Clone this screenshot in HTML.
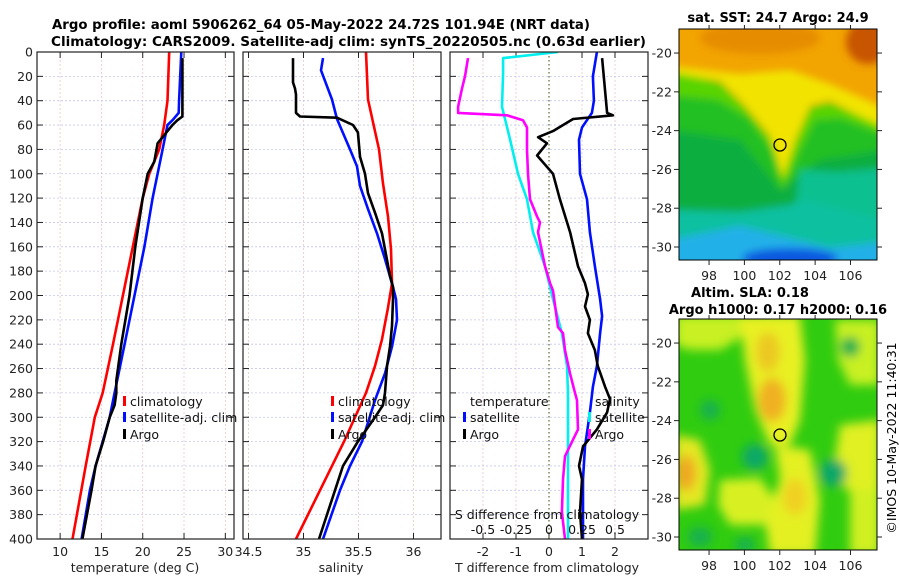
<!DOCTYPE html>
<html><head><meta charset="utf-8">
<style>
html,body{margin:0;padding:0;background:#fff;}
svg{display:block;font-family:"DejaVu Sans","Liberation Sans",sans-serif;}
</style></head>
<body>
<svg id="chart" width="900" height="580" viewBox="0 0 900 580" xmlns="http://www.w3.org/2000/svg">
<defs>
  <filter id="blur6" x="-20%" y="-20%" width="140%" height="140%"><feGaussianBlur stdDeviation="4"/></filter>
  <filter id="blur8" x="-30%" y="-30%" width="160%" height="160%"><feGaussianBlur stdDeviation="5"/></filter>
  <clipPath id="clipMap1"><rect x="679" y="29" width="198" height="231"/></clipPath>
  <clipPath id="clipMap2"><rect x="679" y="319" width="198" height="231"/></clipPath>
  <clipPath id="clipP1"><rect x="37" y="52" width="197" height="487"/></clipPath>
  <clipPath id="clipP2"><rect x="243" y="52" width="198" height="487"/></clipPath>
  <clipPath id="clipP3"><rect x="450" y="52" width="198" height="487"/></clipPath>
  <clipPath id="clipLeg2"><rect x="240" y="380" width="210" height="80"/></clipPath>
</defs>

<text x="52" y="29" font-size="13" font-weight="bold" textLength="538" lengthAdjust="spacingAndGlyphs">Argo profile: aoml 5906262_64 05-May-2022 24.72S 101.94E (NRT data)</text>
<text x="51" y="46" font-size="13" font-weight="bold" textLength="595" lengthAdjust="spacingAndGlyphs">Climatology: CARS2009. Satellite-adj clim: synTS_20220505.nc (0.63d earlier)</text>

<g id="p1"></g>
<g id="p2"></g>
<g id="p3"></g>

<!-- SST map -->
<g>
  <text x="778" y="22" font-size="13" font-weight="bold" text-anchor="middle">sat. SST: 24.7 Argo: 24.9</text>
  <g clip-path="url(#clipMap1)">
    <rect x="679" y="29" width="198" height="231" fill="#f2a400"/>
    <g filter="url(#blur6)">
      <ellipse cx="760" cy="38" rx="60" ry="16" fill="#e68c00"/>
      <ellipse cx="868" cy="42" rx="22" ry="22" fill="#c85400"/>
      <polygon points="670,66 740,74 790,70 830,84 885,108 885,130 830,100 810,105 795,140 783,178 770,135 745,105 720,80 670,74" fill="#f2e400"/>
      <polygon points="670,72 720,82 745,107 770,137 783,178 795,142 810,107 830,102 885,128 885,270 670,270" fill="#58d400"/>
      <polygon points="670,95 718,100 748,118 772,150 783,190 800,150 815,120 840,118 885,135 885,270 670,270" fill="#20c020"/>
      <polygon points="670,130 740,140 780,190 800,175 820,160 885,150 885,270 670,270" fill="#10ae40"/>
      <polygon points="800,170 840,172 885,168 885,270 790,270 795,210" fill="#10c090"/>
      <polygon points="670,210 740,212 790,205 805,200 885,220 885,270 670,270" fill="#10c0a0"/>
      <polygon points="670,240 740,226 790,238 830,248 885,242 885,270 670,270" fill="#20b0e8"/>
      <ellipse cx="790" cy="258" rx="48" ry="10" fill="#1058e0"/>
    </g>
  </g>
  <rect x="679" y="29" width="198" height="231" fill="none" stroke="#000" stroke-width="1"/>
  <circle cx="780" cy="145" r="6" fill="none" stroke="#000" stroke-width="1.3"/>
  <g id="m1ticks"></g>
</g>

<!-- SLA map -->
<g>
  <text x="750" y="297" font-size="13" font-weight="bold" text-anchor="middle">Altim. SLA: 0.18</text>
  <text x="778" y="314" font-size="13" font-weight="bold" text-anchor="middle">Argo h1000: 0.17 h2000: 0.16</text>
  <g clip-path="url(#clipMap2)">
    <rect x="679" y="319" width="198" height="231" fill="#30cc10"/>
    <g filter="url(#blur8)">
      <polygon points="675,315 745,315 745,335 720,350 690,350 675,345" fill="#c8f020"/>
      <polygon points="740,315 800,315 805,360 800,420 790,445 770,445 755,410 745,360" fill="#e8f020"/>
      <ellipse cx="772" cy="400" rx="14" ry="22" fill="#f0b020"/>
      <ellipse cx="768" cy="352" rx="12" ry="20" fill="#ecc820"/>
      <polygon points="775,445 810,450 820,500 815,555 770,555 765,520 780,480" fill="#e4f020"/>
      <ellipse cx="795" cy="497" rx="12" ry="18" fill="#f0d020"/>
      <polygon points="675,435 700,440 710,470 705,505 675,510" fill="#e4e820"/>
      <ellipse cx="686" cy="473" rx="10" ry="18" fill="#f0a820"/>
      <polygon points="720,480 760,478 775,500 765,525 730,525 718,505" fill="#d8f020"/>
      <polygon points="840,425 880,420 880,490 845,490 835,460" fill="#e0f020"/>
      <polygon points="835,320 880,320 880,385 850,385 838,360" fill="#c8f020"/>
      <polygon points="850,490 880,490 880,555 850,555" fill="#d0f020"/>
      <ellipse cx="755" cy="457" rx="13" ry="13" fill="#10a868"/>
      <ellipse cx="833" cy="473" rx="14" ry="14" fill="#10a868"/>
      <ellipse cx="710" cy="410" rx="10" ry="10" fill="#18b050"/>
      <ellipse cx="850" cy="347" rx="10" ry="10" fill="#18b050"/>
      <ellipse cx="700" cy="537" rx="12" ry="10" fill="#18b050"/>
      <ellipse cx="745" cy="545" rx="10" ry="8" fill="#18b050"/>
    </g>
  </g>
  <rect x="679" y="319" width="198" height="231" fill="none" stroke="#000" stroke-width="1"/>
  <circle cx="780" cy="435" r="6" fill="none" stroke="#000" stroke-width="1.3"/>
  <g id="m2ticks"></g>
</g>

<text x="0" y="0" font-size="12.5" text-anchor="middle" transform="translate(896,438) rotate(-90)">©IMOS 10-May-2022 11:40:31</text>

<script>
// ---- Data ----
const depthTicks = [0,20,40,60,80,100,120,140,160,180,200,220,240,260,280,300,320,340,360,380,400];
const tempTicks = [10,15,20,25,30];
const salTicks = [34.5,35,35.5,36];
const salTickLabels = ["34.5","35","35.5","36"];
const dTTicks = [-2,-1,0,1,2];
const dSTicks = [-0.5,-0.25,0,0.25,0.5];
const dSTickLabels = ["-0.5","-0.25","0","0.25","0.5"];
const latTicks = [-20,-22,-24,-26,-28,-30];
const lonTicks = [98,100,102,104,106];

const climTDepth = [0,40,60,80,100,120,160,200,240,280,300,340,400];
const climT = [23.2,23.0,22.6,22.0,20.8,20.0,18.8,17.6,16.4,15.15,14.2,13.1,11.5];
const satTDepth = [0,40,50,56,60,80,100,120,160,200,240,280,300,340,360,400];
const satT = [24.67,24.4,24.35,23.6,23.0,22.4,21.8,21.2,20.2,19.0,17.8,16.6,16.0,14.3,13.6,12.6];
const argoTDepth = [5,53,56,60,65,70,75,90,100,120,160,200,240,270,280,290,300,320,340,360,400];
const argoT = [24.8,24.8,24.2,23.6,23.0,22.4,21.8,21.4,20.6,20.0,19.1,18.4,17.4,16.8,16.8,16.6,16.0,15.2,14.3,13.8,12.7];

const climSDepth = [0,39,80,108,135,162,190,210,236,258,280,320,400];
const climS = [35.568,35.586,35.686,35.723,35.768,35.795,35.805,35.768,35.714,35.65,35.568,35.368,34.932];
const satSDepth = [5,15,39,55,80,94,110,129,149,170,193,203,220,242,264,286,320,340,360,400];
const satS = [35.177,35.159,35.259,35.305,35.423,35.486,35.514,35.586,35.668,35.741,35.814,35.841,35.85,35.805,35.741,35.65,35.532,35.423,35.332,35.177];
const argoSDepth = [5,25,30,35,50,53,54,60,66,86,100,116,132,149,162,184,193,203,225,242,258,280,290,300,320,340,360,380,400];
const argoS = [34.905,34.905,34.923,34.932,34.932,34.968,35.305,35.45,35.495,35.514,35.559,35.586,35.65,35.714,35.741,35.786,35.814,35.814,35.805,35.786,35.759,35.741,35.723,35.65,35.495,35.359,35.286,35.214,35.141];

const satDTDepth = [0,20,40,50,62,72,100,121,148,176,203,217,231,258,275,296,324,351,400];
const satDT = [1.45,1.33,1.36,1.30,1.0,0.91,0.94,1.15,1.24,1.39,1.55,1.61,1.55,1.45,1.33,1.24,1.09,1.03,1.03];
const argoDTDepth = [5,50,52,55,65,70,75,85,100,121,148,176,190,199,209,220,231,245,258,275,285,296,310,324,340,351,378,400];
const argoDT = [1.61,1.76,1.94,0.73,0.12,-0.33,-0.06,-0.36,0.12,0.33,0.64,0.88,1.09,1.18,1.09,1.24,1.18,1.39,1.48,1.70,1.85,1.76,1.45,1.03,0.91,1.0,0.94,1.0];
const satDSDepth = [0,5,17,45,72,100,121,148,176,203,231,258,280,400];
const satDS = [0.068,-0.348,-0.348,-0.356,-0.295,-0.235,-0.167,-0.121,-0.030,0.030,0.098,0.136,0.144,0.144];
const argoDSDepth = [5,20,30,45,50,52,56,62,80,100,121,135,140,148,176,190,196,226,231,245,264,280,286,310,332,351,378,400];
const argoDS = [-0.614,-0.636,-0.659,-0.689,-0.689,-0.318,-0.197,-0.167,-0.167,-0.159,-0.144,-0.091,-0.068,-0.083,-0.030,0.008,0.030,0.068,0.106,0.121,0.159,0.197,0.212,0.220,0.121,0.106,0.098,0.121];

// ---- Axes ----
const NS = "http://www.w3.org/2000/svg";
const Y0 = 52, Y1 = 539, DMAX = 400;
function yD(d){ return Y0 + d/DMAX*(Y1-Y0); }
function lin(d0,d1,r0,r1){ return v => r0 + (v-d0)/(d1-d0)*(r1-r0); }
const xT = lin(7.2,31.05,37,234);
const xS = lin(34.45,36.25,243,441);
const xDT = lin(-3,3,450,648);
const xDS = lin(-0.75,0.75,450,648);
const lonX = lin(96.3,107.5,679,877);
const lat1Y = lin(-18.76,-30.67,29,260);
const lat2Y = lin(-18.76,-30.67,319,550);

function el(tag, attrs, parent){
  const e = document.createElementNS(NS, tag);
  for (const k in attrs) e.setAttribute(k, attrs[k]);
  parent.appendChild(e);
  return e;
}
function txt(str, attrs, parent){ const t = el('text', attrs, parent); t.textContent = str; return t; }

function panel(g, x0, x1, xticks, xfn, gridColorV){
  el('rect',{x:x0,y:Y0,width:x1-x0,height:Y1-Y0,fill:'#fff'},g);
  xticks.forEach(v=>{
    const gl = el('line',{x1:xfn(v),x2:xfn(v),y1:Y0,y2:Y1,stroke:gridColorV,'stroke-width':0.8,'stroke-dasharray':'2,2'},g);
    
    
  });
  depthTicks.forEach(d=>{
    const gl = el('line',{x1:x0,x2:x1,y1:yD(d),y2:yD(d),stroke:'#c4c8ee','stroke-width':0.8,'stroke-dasharray':'2,2'},g);
    
    
    el('line',{x1:x0,x2:x0+6,y1:yD(d),y2:yD(d),stroke:'#222','stroke-width':1},g);
    el('line',{x1:x1-6,x2:x1,y1:yD(d),y2:yD(d),stroke:'#222','stroke-width':1},g);
  });
  xticks.forEach(v=>{
    el('line',{x1:xfn(v),x2:xfn(v),y1:Y1,y2:Y1-6,stroke:'#222','stroke-width':1},g);
    el('line',{x1:xfn(v),x2:xfn(v),y1:Y0,y2:Y0+6,stroke:'#222','stroke-width':1},g);
  });
}
function frame(g,x0,x1){
  const f = el('rect',{x:x0,y:Y0,width:x1-x0,height:Y1-Y0,fill:'none',stroke:'#222','stroke-width':1.2},g);
  
  
}
function series(g, depths, vals, xfn, color, name, clip){
  const pts = depths.map((d,i)=> xfn(vals[i]).toFixed(1)+','+yD(d).toFixed(1)).join(' ');
  const p = el('polyline',{points:pts,fill:'none',stroke:color,'stroke-width':2.6,'stroke-linejoin':'round','clip-path':clip},g);
  
  
}
function legendItem(g, x, y, color, label, name){
  if (color) {
    const m = el('rect',{x:x-7,y:y-10,width:3,height:10,fill:color},g);
    
    
  }
  const t = txt(label,{x:x,y:y,'font-size':12.5,fill:'#111'},g);
  
  
}

// Panel 1: temperature
const p1 = document.getElementById('p1');
panel(p1,37,234,tempTicks,xT,'#eac8c8');
series(p1, climTDepth, climT, xT, '#ff0000','climatology-temperature-line','url(#clipP1)');
series(p1, satTDepth, satT, xT, '#0010ff','satellite-temperature-line','url(#clipP1)');
series(p1, argoTDepth, argoT, xT, '#000','argo-temperature-line','url(#clipP1)');
frame(p1,37,234);
depthTicks.forEach(d=>{
  const t = txt(String(d),{x:33,y:yD(d)+4.5,'font-size':12.5,'text-anchor':'end',fill:'#222'},p1);
  
  
});
tempTicks.forEach(v=>{
  const t = txt(String(v),{x:xT(v),y:556,'font-size':12.5,'text-anchor':'middle',fill:'#222'},p1);
  
  
});
txt('temperature (deg C)',{x:135,y:572,'font-size':12.5,'text-anchor':'middle',fill:'#222',},p1);
legendItem(p1,130,406,'#ff0000','climatology','legend-climatology');
legendItem(p1,130,422,'#0010ff','satellite-adj. clim','legend-satellite-adj');
legendItem(p1,130,439,'#000','Argo','legend-argo');

// Panel 2: salinity
const p2 = document.getElementById('p2');
panel(p2,243,441,salTicks,xS,'#eac8c8');
series(p2, climSDepth, climS, xS, '#ff0000','climatology-salinity-line','url(#clipP2)');
series(p2, satSDepth, satS, xS, '#0010ff','satellite-salinity-line','url(#clipP2)');
series(p2, argoSDepth, argoS, xS, '#000','argo-salinity-line','url(#clipP2)');
frame(p2,243,441);
salTicks.forEach((v,i)=>{
  const t = txt(salTickLabels[i],{x:xS(v),y:556,'font-size':12.5,'text-anchor':'middle',fill:'#222'},p2);
  
  
});
txt('salinity',{x:341,y:572,'font-size':12.5,'text-anchor':'middle',fill:'#222',},p2);
const leg2 = el('g',{'clip-path':'url(#clipLeg2)'},p2);
legendItem(leg2,338,406,'#ff0000','climatology','legend-climatology-2');
legendItem(leg2,338,422,'#0010ff','satellite-adj. clim','legend-satellite-adj-2');
legendItem(leg2,338,439,'#000','Argo','legend-argo-2');

// Panel 3: differences
const p3 = document.getElementById('p3');
panel(p3,450,648,[-2,-1,1,2],xDT,'#eac8c8');
dTTicks.forEach(v=>{
  el('line',{x1:xDT(v),x2:xDT(v),y1:Y1,y2:Y1-6,stroke:'#222','stroke-width':1},p3);
});
const zl = el('line',{x1:xDT(0),x2:xDT(0),y1:Y0,y2:Y1,stroke:'#556b2f','stroke-width':1.2,'stroke-dasharray':'1.5,2.5'},p3);


series(p3, satDSDepth, satDS, xDS, '#00f0f0','satellite-salinity-diff-line','url(#clipP3)');
series(p3, argoDSDepth, argoDS, xDS, '#ff00ff','argo-salinity-diff-line','url(#clipP3)');
series(p3, satDTDepth, satDT, xDT, '#0010ff','satellite-temperature-diff-line','url(#clipP3)');
series(p3, argoDTDepth, argoDT, xDT, '#000','argo-temperature-diff-line','url(#clipP3)');
frame(p3,450,648);
dTTicks.forEach(v=>{
  const t = txt(String(v),{x:xDT(v),y:556,'font-size':12.5,'text-anchor':'middle',fill:'#222'},p3);
  
  
});
dSTicks.forEach((v,i)=>{
  const t = txt(dSTickLabels[i],{x:xDS(v),y:534,'font-size':12.5,'text-anchor':'middle',fill:'#111'},p3);
  
  
});
txt('S difference from climatology',{x:547,y:519,'font-size':12.5,'text-anchor':'middle',fill:'#111',},p3);
txt('T difference from climatology',{x:547,y:572,'font-size':12.5,'text-anchor':'middle',fill:'#222',},p3);
legendItem(p3,470,406,null,'temperature','legend-temperature-heading');
legendItem(p3,470,422,'#0010ff','satellite','legend-temp-satellite');
legendItem(p3,470,439,'#000','Argo','legend-temp-argo');
legendItem(p3,595,406,null,'salinity','legend-salinity-heading');
legendItem(p3,595,422,'#00f0f0','satellite','legend-sal-satellite');
legendItem(p3,595,439,'#ff00ff','Argo','legend-sal-argo');

// Map ticks
function mapTicks(g, y0, y1, latFn){
  latTicks.forEach(v=>{
    const y = latFn(v);
    el('line',{x1:679,x2:674,y1:y,y2:y,stroke:'#222'},g);
    el('line',{x1:877,x2:882,y1:y,y2:y,stroke:'#222'},g);
    const t = txt(String(v),{x:672,y:y+4.5,'font-size':12.5,'text-anchor':'end',fill:'#222'},g);
    
    
  });
  lonTicks.forEach(v=>{
    const x = lonX(v);
    el('line',{x1:x,x2:x,y1:y1,y2:y1+5,stroke:'#222'},g);
    el('line',{x1:x,x2:x,y1:y0,y2:y0-4,stroke:'#222'},g);
    const t = txt(String(v),{x:x,y:y1+20,'font-size':12.5,'text-anchor':'middle',fill:'#222'},g);
    
    
  });
}
mapTicks(document.getElementById('m1ticks'),29,260,lat1Y);
mapTicks(document.getElementById('m2ticks'),319,550,lat2Y);
</script>
</svg>
</body></html>
